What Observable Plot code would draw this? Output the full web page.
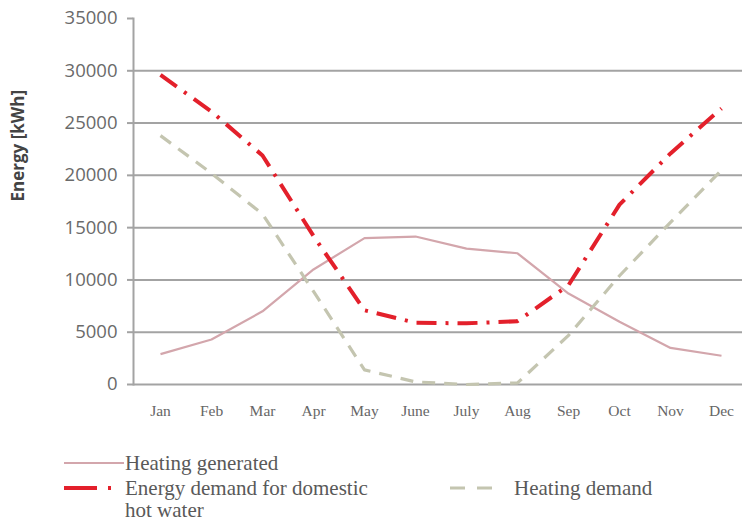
<!DOCTYPE html>
<html>
<head>
<meta charset="utf-8">
<script src="https://cdn.jsdelivr.net/npm/d3@7"></script>
<script src="https://cdn.jsdelivr.net/npm/@observablehq/plot@0.6"></script>
<style>
  html, body { margin: 0; padding: 0; background: #fff; }
  #wrap { position: relative; width: 742px; height: 522px; overflow: hidden; }
  #legend { position: absolute; left: 0; top: 440px; width: 742px; height: 82px;
    font-family: "Liberation Serif", "DejaVu Serif", serif; font-size: 21px; color: #595959; }
  #legend svg { position: absolute; left: 0; top: 0; }
  .lt { position: absolute; white-space: nowrap; line-height: 20px; transform: translateY(-50%); }
</style>
</head>
<body>
<div id="wrap">
  <div id="chart"></div>
  <div id="legend"></div>
</div>
<script>
const months = ["Jan","Feb","Mar","Apr","May","June","July","Aug","Sep","Oct","Nov","Dec"];
const heatingGenerated = [2900, 4300, 7000, 11000, 14000, 14150, 13000, 12550, 8700, 6000, 3500, 2750];
const hotWaterDemand   = [29600, 26100, 21900, 14200, 7100, 5900, 5850, 6050, 9500, 17200, 22100, 26400];
const heatingDemand    = [23800, 20200, 16300, 8900, 1400, 250, 0, 150, 4700, 10400, 15500, 20500];
const yTicks = [0, 5000, 10000, 15000, 20000, 25000, 30000, 35000];
const yLabel = "Energy [kWh]";
const legendLabels = ["Heating generated", "Energy demand for domestic", "hot water", "Heating demand"];

const series = [
  {name: "Heating generated", values: heatingGenerated, stroke: "#d3a6ac", width: 2.2, dash: null},
  {name: "Energy demand for domestic hot water", values: hotWaterDemand, stroke: "#e3202b", width: 4, dash: "20,9,3,9"},
  {name: "Heating demand", values: heatingDemand, stroke: "#c4c5b0", width: 3.2, dash: "13,9"}
];

const toRows = s => months.map((m, i) => ({month: m, value: s.values[i]}));

const chart = Plot.plot({
  width: 742,
  height: 440,
  marginLeft: 133,
  marginRight: 0,
  marginTop: 18,
  marginBottom: 56,
  x: {type: "point", domain: months, range: [158, 722], padding: 0},
  y: {domain: [0, 35000]},
  style: {background: "#fff", overflow: "visible"},
  marks: [
    Plot.ruleY(yTicks.filter(t => t > 0 && t < 35000), {stroke: "#a3a3a3", strokeWidth: 2}),
    Plot.ruleY([0], {stroke: "#a3a3a3", strokeWidth: 2}),
    Plot.frame({anchor: "left", stroke: "#a3a3a3", strokeWidth: 2}),
    Plot.axisY({ticks: yTicks, tickSize: 6, tickPadding: 10, fontSize: 18.5, fontFamily: "Open Sans, sans-serif",
      color: "#6a6a6a", stroke: "#a3a3a3", strokeWidth: 2, label: null, tickFormat: d => String(d)}),
    Plot.axisX({tickSize: 0, tickPadding: 20, fontSize: 15.5, fontFamily: "Liberation Serif, serif", color: "#666", label: null}),
    Plot.text([yLabel], {frameAnchor: "left", rotate: -90, dx: -115, fontSize: 17, fontWeight: "bold",
      fontFamily: "Open Sans, sans-serif", fill: "#444"}),
    ...series.map(s => Plot.lineY(toRows(s), {x: "month", y: "value", stroke: s.stroke, strokeWidth: s.width,
      strokeDasharray: s.dash, strokeLinecap: "butt", curve: "linear"}))
  ]
});
document.getElementById("chart").appendChild(chart);

// Legend
const legend = document.getElementById("legend");
const lsvg = d3.create("svg").attr("width", 742).attr("height", 82);
lsvg.append("line").attr("x1", 64).attr("x2", 124).attr("y1", 23).attr("y2", 23)
  .attr("stroke", series[0].stroke).attr("stroke-width", series[0].width);
lsvg.append("line").attr("x1", 64).attr("x2", 111).attr("y1", 48).attr("y2", 48)
  .attr("stroke", series[1].stroke).attr("stroke-width", series[1].width).attr("stroke-dasharray", "33,11,3,20");
lsvg.append("line").attr("x1", 450).attr("x2", 492).attr("y1", 48).attr("y2", 48)
  .attr("stroke", series[2].stroke).attr("stroke-width", series[2].width).attr("stroke-dasharray", "15,12");
legend.appendChild(lsvg.node());
function addText(t, left, cy) {
  const s = document.createElement("div");
  s.className = "lt";
  s.style.left = left + "px";
  s.style.top = cy + "px";
  s.textContent = t;
  legend.appendChild(s);
}
addText(legendLabels[0], 125, 23);
addText(legendLabels[1], 125, 48);
addText(legendLabels[2], 125, 70);
addText(legendLabels[3], 514, 48);
</script>
</body>
</html>
